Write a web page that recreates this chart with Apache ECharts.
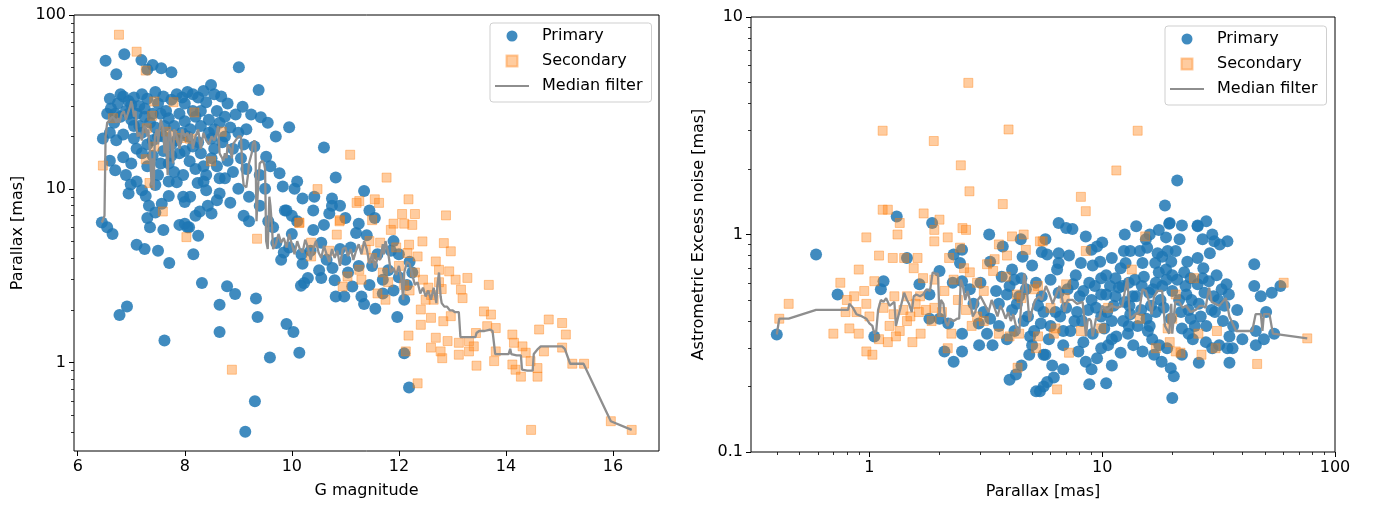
<!DOCTYPE html>
<html><head><meta charset="utf-8">
<script src="https://cdn.jsdelivr.net/npm/echarts@6/dist/echarts.min.js"></script>
<style>html,body{margin:0;padding:0;background:#fff}#c{width:1374px;height:507px}</style>
</head><body><div id="c"></div><script>
// ---------- data: left panel (G magnitude vs parallax) ----------
const leftPrimary = [
[6.52,54.6],[6.87,59.4],[7.19,55],[7.40,51.6],[7.56,49.4],[7.75,46.9],[6.72,45.6],[7.30,48.5],[9.01,50],[9.38,37],[6.85,34],[6.95,32],[7.05,33.5],[7.2,35],[7.3,33],[7.45,36],[7.6,34],[7.75,32.5],[7.85,35],[7.95,33.5],[8.05,36],[8.15,35],[8.25,33.5],[8.35,36.5],[8.49,39.6],[8.55,35],[8.68,34],[8.8,31],[6.75,31],[7.0,30.5],[7.5,31],[8.0,31],[8.4,31.5],
[9.08,29.7],[9.24,26.8],[9.42,25.8],[8.95,26.8],[9.70,20],[6.55,27],[6.62,29],[6.68,24],[6.8,26],[6.9,28],[7.0,25],[7.1,27],[7.15,23],[7.25,26],[7.35,24],[7.45,22.5],[7.55,27],[7.62,23],[7.7,25.5],[7.8,23],[7.9,27],[8.0,24.5],[8.1,22],[8.2,26],[8.3,23],[8.45,25],[8.55,22],[8.65,24],[8.75,20],[8.85,22.5],[9.0,21],[9.15,22],[9.55,24],[9.95,22.6],[6.47,19.5],[6.6,21],[6.72,19],[6.85,20.5],[7.05,19.5],[7.2,21],[7.4,19],[7.6,20],[7.85,19],[8.05,20],[8.25,18.5],[8.5,19.5],[8.7,18.5],
[6.6,33],[6.7,27],[6.8,35],[6.95,27],[7.05,23],[7.15,30],[7.25,29],[7.4,27],[7.5,20],[7.65,28],[7.75,18],[7.95,21],[8.15,28],[8.3,28],[8.45,21],[8.6,28],[8.75,26],[8.9,17],[9.1,18],[7.1,17],[7.3,18],[7.55,14],[7.75,15.5],[8.0,16.5],[8.15,17.5],[8.35,13.5],[8.55,17],[8.75,11.5],[9.0,10],[9.2,9],[9.5,10],[6.9,12],[7.0,14],[7.2,9.8],[7.45,10.5],[7.7,11],[8.1,9],[8.35,11],
[10.6,17.3],[9.3,17.5],[9.52,15.3],[9.77,12.3],[9.83,10.3],[10.1,11],[10.05,10],[6.6,14.5],[6.7,12.8],[6.85,15.2],[6.99,10.6],[7.1,11],[7.2,16],[7.3,13.5],[7.4,15.5],[7.5,12],[7.6,16.5],[7.7,14],[7.8,12.5],[7.9,16],[8.09,14.4],[8.2,13],[8.3,16],[8.4,12],[8.5,15],[8.6,13.5],[8.65,11.5],[8.8,14.5],[8.9,12.5],[9.05,15],[9.15,13],[9.4,12],[9.6,13.5],[7.85,10.9],[7.97,12],[8.24,10.8],[8.4,9.8],[8.65,9.4],[10.82,11.6],[11.35,9.7],
[6.45,6.4],[6.55,6.0],[6.65,5.5],[6.95,9.4],[7.27,9.1],[7.33,8],[7.57,8.2],[7.7,9.1],[7.97,9],[8.0,8.4],[8.28,7.4],[8.43,8],[7.3,6.8],[7.35,6.0],[7.45,7.3],[7.6,5.8],[7.9,6.2],[8.0,6.3],[8.05,6.0],[8.2,7.0],[8.25,5.37],[8.16,4.2],[8.5,7.2],[8.6,8.6],[8.85,8.3],[9.1,7.0],[9.2,6.5],[9.4,8.0],[9.56,6.5],[9.87,7.5],[10.42,9],[10.75,8],[10.75,8.8],[7.10,4.76],[7.25,4.5],[7.50,4.4],[7.71,3.74],[8.08,6.0],
[6.78,1.88],[6.92,2.1],[7.62,1.34],[8.32,2.87],[8.79,2.75],[8.94,2.48],[8.65,2.15],[8.65,1.5],[9.33,2.34],[9.36,1.83],[9.31,0.6],[9.13,0.40],[9.90,1.67],[10.03,1.5],[9.59,1.07],[10.14,1.14],
[9.65,6.0],[9.71,4.87],[9.80,3.9],[9.85,4.3],[10.2,3.7],[10.17,2.77],[10.3,3.07],[10.51,3.4],[10.55,3.07],[10.76,3.5],[10.8,2.98],[10.82,2.4],[10.98,2.4],[11.13,2.74],[11.3,2.4],[11.35,2.17],[11.2,5.56],[11.4,5.4],[10.55,4.9],[10.0,5.5],[10.1,6.5],[10.4,5.8],[10.6,6.2],[10.9,4.5],[11.0,3.9],[11.1,4.6],[11.5,3.6],[11.6,4.2],[11.7,3.0],[11.8,3.4],[11.9,2.6],[12.0,3.1],[12.1,2.3],[12.2,3.8],[11.45,7.5],[11.55,6.8],[11.25,6.3],[11.9,5.0],[12.0,4.2],[12.19,0.72],[12.1,1.13],[11.56,2.04],[11.97,1.83],[10.18,4.2],[10.23,2.87],[10.9,8.0],[11.0,6.8],[10.7,7.2],[10.4,7.5],[10.2,8.8],[10.0,7.0],[9.9,7.5],[9.95,4.6],[10.35,4.4],[10.65,3.9],[11.05,3.3],[11.25,3.6],[11.45,2.8],[11.7,2.5],[11.85,4.4],[12.15,2.8],[12.25,3.3]
];
const leftSecondary = [
[6.77,77],[7.10,61.5],[7.27,47.9],[7.43,31.8],[7.79,31.5],[8.18,27.5],[7.39,26.3],[6.66,25.5],[7.29,22.3],[7.65,21.3],[7.77,20.3],[7.93,19.6],[8.1,19.4],[8.69,21.3],[7.43,17.5],[7.27,14.8],[6.47,13.6],[7.34,10.8],[7.59,7.4],[8.49,14.4],[8.03,5.27],[9.35,5.16],[10.48,9.96],[11.09,15.7],[11.21,8.3],[10.14,6.4],[10.90,6.6],[8.88,0.91],
[10.14,6.35],[10.36,4.9],[10.70,4.4],[10.36,4.08],[10.84,5.45],[10.89,6.5],[11.04,3.13],[11.26,3.42],[10.95,2.74],[11.38,4.46],[11.77,11.6],[11.55,8.7],[11.63,8.3],[12.18,8.7],[12.06,7.16],[12.30,7.16],[12.88,7.03],[11.26,8.5],[11.5,6.6],[11.9,6.3],[12.1,6.3],[11.85,5.8],[12.25,6.2],[12.44,4.98],[12.84,4.87],[12.97,4.37],[12.19,4.77],[12.16,4.27],[12.35,4.08],[12.69,3.82],[12.75,3.42],[12.94,3.35],[13.06,3.0],[13.28,3.07],[13.68,2.8],[13.16,2.63],[13.19,2.35],[12.75,2.9],[12.8,2.65],[12.6,2.45],[12.5,2.3],[12.41,2.02],[12.6,1.81],[12.83,1.73],[12.97,1.85],[12.41,1.65],[13.59,1.97],[13.72,1.89],[13.44,1.48],[13.65,1.62],[13.81,1.58],[13.12,1.30],[13.31,1.33],[13.40,1.24],[13.12,1.11],[13.31,1.16],[12.69,1.39],[12.91,1.33],[12.6,1.22],[12.78,1.16],[12.81,1.06],[12.18,1.43],[12.13,1.16],[12.35,0.76],[13.45,0.96],[13.78,1.02],[13.81,1.16],[14.12,1.45],[14.15,1.30],[14.31,1.24],[14.37,1.14],[14.12,0.975],[14.18,0.91],[14.28,0.83],[14.46,1.02],[14.59,0.93],[14.59,0.83],[14.62,1.55],[14.71,1.16],[14.80,1.77],[15.05,1.69],[15.12,1.45],[15.05,1.22],[15.24,0.985],[15.46,0.985],[14.47,0.41],[15.96,0.46],[16.35,0.41],
[11.5,4.0],[11.7,3.3],[11.8,2.9],[12.0,3.6],[12.1,2.8],[11.6,2.5],[11.3,3.0],[11.95,4.6],[12.3,3.3],[12.45,3.0],[11.75,2.3],[12.2,2.6],[12.55,2.7],[12.65,2.3],[11.45,5.0],[11.65,4.9]
];
const leftMedian = [
[6.45,6.4],[6.5,7],[6.52,20],[6.55,24],[6.6,25],[6.65,26],[6.7,25],[6.72,24],[6.75,25.5],[6.78,24],[6.82,27],[6.86,28],[6.9,25],[6.95,28],[6.98,30],[7.0,32],[7.02,30],[7.05,26],[7.08,28],[7.1,22],[7.12,20],[7.15,21],[7.2,19],[7.22,22],[7.25,23],[7.28,22],[7.3,20],[7.32,22],[7.35,16],[7.38,10.5],[7.4,15],[7.42,9.8],[7.44,20],[7.48,22],[7.5,18],[7.52,21],[7.55,25],[7.6,22],[7.62,16],[7.65,20],[7.68,12],[7.7,20],[7.72,22],[7.75,18],[7.78,14],[7.8,22],[7.85,20],[7.9,17],[7.93,19],[7.95,22],[8.0,20],[8.05,21],[8.1,19],[8.12,21],[8.15,17],[8.2,20],[8.25,22],[8.3,17],[8.35,21],[8.4,19],[8.45,18],[8.5,20],[8.55,19],[8.6,21],[8.62,23],[8.65,16],[8.7,15],[8.72,14.5],[8.75,16],[8.78,15],[8.8,18],[8.85,17],[8.88,15],[8.9,18],[8.95,19],[9.0,20],[9.02,20.5],[9.05,20],[9.08,12],[9.1,10.5],[9.15,10.2],[9.18,12],[9.2,14],[9.25,16],[9.27,18],[9.3,19],[9.32,18],[9.34,6.5],[9.36,9],[9.38,11.8],[9.4,14],[9.45,14.5],[9.48,14],[9.5,13],[9.52,5],[9.55,4.5],[9.58,9],[9.6,8],[9.63,6],[9.65,4.5],[9.7,4.8],[9.75,5.5],[9.8,4.9],[9.85,5.2],[9.9,4.6],[9.95,5.5],[10.0,4.8],[10.05,4.2],[10.1,5.0],[10.15,4.5],[10.2,4.3],[10.25,5.1],[10.3,4.6],[10.35,3.9],[10.4,4.5],[10.45,5.0],[10.5,4.3],[10.55,4.0],[10.6,4.7],[10.65,4.2],[10.7,3.8],[10.75,4.5],[10.8,4.0],[10.85,4.4],[10.9,3.6],[10.95,4.5],[11.0,4.6],[11.05,4.1],[11.1,4.5],[11.15,3.9],[11.2,4.4],[11.25,4.8],[11.3,4.2],[11.35,5.0],[11.4,4.5],[11.45,3.7],[11.5,4.2],[11.55,3.5],[11.6,4.0],[11.65,3.9],[11.7,4.8],[11.72,4.2],[11.75,5.0],[11.8,4.3],[11.85,3.3],[11.9,3.5],[11.95,3.2],[12.0,3.6],[12.05,3.0],[12.08,2.3],[12.1,3.3],[12.15,3.8],[12.2,3.7],[12.25,3.2],[12.3,2.8],[12.35,2.9],[12.4,2.5],[12.45,2.7],[12.5,2.4],[12.55,2.6],[12.6,2.3],[12.65,2.7],[12.7,2.2],[12.72,2.8],[12.75,3.3],[12.78,2.4],[12.8,2.2],[12.85,2.1],[12.9,2.1],[12.95,2.0],[13.0,2.0],[13.05,1.95],[13.12,1.95],[13.15,1.4],[13.25,1.4],[13.35,1.4],[13.43,1.4],[13.45,1.48],[13.5,1.52],[13.6,1.52],[13.7,1.55],[13.75,1.52],[13.8,1.12],[13.9,1.12],[14.0,1.12],[14.05,1.12],[14.08,1.2],[14.1,1.12],[14.2,1.1],[14.28,1.1],[14.3,0.91],[14.4,0.90],[14.5,0.90],[14.52,1.12],[14.6,1.2],[14.65,1.24],[14.8,1.24],[14.9,1.24],[15.05,1.24],[15.1,1.2],[15.2,0.985],[15.3,0.985],[15.45,0.985],[15.96,0.46],[16.35,0.41]
];
// ---------- data: right panel (parallax vs astrometric excess noise) ----------
const rightPrimary = [
[0.40,0.347],[0.59,0.81],[0.73,0.53],[1.05,0.34],[1.15,0.61],[1.12,0.56],[1.31,1.21],[1.45,0.78],[1.64,0.59],[1.81,0.53],[1.86,1.13],[2.0,0.68],[1.81,0.41],[2.0,0.41],[2.18,0.39],[2.1,0.29],[2.3,0.26],[2.5,0.29],[2.3,0.81],[2.5,0.85],[2.45,0.74],[2.28,0.6],[2.5,0.61],[2.7,0.56],[2.5,0.35],[2.96,0.31],[3.38,0.31],[3.27,1.0],[3.74,0.88],[4.47,0.95],[4.55,0.79],[4.1,0.69],[4.5,0.63],[5.0,0.72],[4.7,0.56],[4.0,0.58],[4.3,0.48],[3.9,0.53],[4.0,0.215],[4.26,0.227],[5.2,0.19],[5.0,0.31],[4.86,0.28],[4.5,0.25],[5.6,0.2],[5.6,0.28],[5.45,0.39],[5.6,0.44],[5.5,0.83],[5.7,0.95],[2.95,0.39],[3.3,0.41],[3.1,0.44],
[6.5,1.13],[7.45,1.06],[5.8,0.81],[6.5,0.82],[6.5,0.74],[6.4,0.69],[9.0,0.85],[8.1,0.74],[9.1,0.72],[7.7,0.65],[7.5,0.59],[7.1,0.56],[6.5,0.54],[5.7,0.28],[6.1,0.25],[6.8,0.24],[6.2,0.22],[5.8,0.21],[5.4,0.19],[8.8,0.205],[10.4,0.207],[8.5,0.26],[9.5,0.27],[11.0,0.25],[12.0,0.286],[8.3,0.32],[9.1,0.35],[9.9,0.30],[10.6,0.31],[10.4,0.65],[11.4,0.63],[9.9,0.63],[9.0,0.5],[9.9,0.53],[10.4,0.53],[11.4,0.52],[12.5,0.49],[9.9,0.42],[11.0,0.4],[12.3,0.4],[13.2,0.43],[12.4,0.84],[13.2,0.84],[12.6,0.74],[14.0,1.09],[14.9,0.74],[15.6,0.87],[15.4,0.95],[13.8,0.62],[15.9,0.54],[14.7,0.45],[15.5,0.41],[14.9,0.29],[16.7,0.28],[17.6,0.31],[16.4,0.33],[17.3,0.82],[18.1,0.79],[19.1,0.84],[17.5,0.67],[18.8,0.69],[16.9,0.74],[18.8,0.97],[20.7,0.84],[19.4,1.12],[18.1,0.58],[20.0,0.55],[21.4,0.50],[19.7,0.41],[19.7,0.243],[20.3,0.223],[20.0,0.177],[22,0.37],[23.5,0.35],[25,0.38],[24,0.41],[22.5,0.67],[24,0.63],[25.7,0.59],[27,0.63],[25.7,0.78],[27.0,0.95],[29.7,1.0],[30.3,0.93],[34.5,0.93],[25.7,1.09],[28.7,0.61],[30.1,0.52],[32.6,0.56],[34.2,0.59],[35,0.53],[26,0.257],[27.9,0.32],[29.7,0.30],[31.8,0.31],[34.5,0.30],[36.3,0.30],[35.2,0.34],[38.0,0.45],[35.2,0.257],[45,0.73],[45,0.58],[48,0.52],[53.5,0.54],[58.3,0.58],[50.6,0.44],[45.7,0.36],[45.7,0.31],[54.8,0.35],[49.5,0.33],
[21.0,1.77],[18.6,1.36],[19.5,1.13],[25.7,1.10],[7.0,1.07],
[3.0,0.6],[3.5,0.55],[3.2,0.35],[3.6,0.38],[4.2,0.36],[4.8,0.42],[5.3,0.47],[6.0,0.38],[6.6,0.42],[7.3,0.36],[7.8,0.44],[8.3,0.55],[8.8,0.60],[9.4,0.46],[10.2,0.37],[10.8,0.58],[11.8,0.57],[12.9,0.35],[13.5,0.52],[14.2,0.38],[15.1,0.64],[16.2,0.47],[17.0,0.44],[18.4,0.46],[19.0,0.30],[21.0,0.62],[22.0,0.28],[23.0,0.53],[24.5,0.33],[26.5,0.42],[28.0,0.38],[30.5,0.44],[33.0,0.40],[12.0,0.70],[13.0,0.60],[14.5,0.84],[16.0,1.0],[17.0,0.6],[20.0,0.65],[21.5,0.95],[23.2,0.75],[11.0,0.78],[10.0,0.92],[8.5,0.98],[9.5,0.88],[7.2,0.8],[6.0,0.62],[5.2,0.6],[3.7,0.64],[4.4,0.52],[2.8,0.48],[3.9,0.33],[4.9,0.34],[6.8,0.31],[7.9,0.29],[9.0,0.24],[11.5,0.34],[13.6,0.31],[15.7,0.36],[18.0,0.26],[23.5,0.45],[27.5,0.54],[31.0,0.65],[29.0,0.82],[32,0.9],
[3.3,0.75],[3.6,0.48],[4.1,0.45],[4.6,0.40],[5.1,0.36],[5.9,0.33],[6.3,0.44],[7.0,0.46],[7.6,0.40],[8.0,0.52],[8.7,0.45],[9.3,0.58],[9.8,0.75],[10.5,0.44],[11.2,0.47],[12.2,0.58],[13.1,0.47],[14.0,0.52],[14.8,0.58],[16.5,0.56],[17.8,0.50],[18.9,0.62],[19.8,0.75],[21.8,0.44],[22.8,0.58],[24.2,0.50],[26.0,0.48],[27.2,0.70],[29.5,0.45],[31.5,0.50],[33.5,0.47],[36.5,0.38],[40.0,0.33],[16.0,0.38],[13.0,0.38],[11.0,0.33],[8.2,0.40],[6.8,0.36],[5.5,0.52],[4.2,0.62],[12.5,1.0],[17.5,1.05],[22.0,1.1],[28.0,1.15]
];
const rightSecondary = [
[2.66,4.98],[1.14,3.0],[3.96,3.04],[1.89,2.69],[2.47,2.08],[2.69,1.58],[3.74,1.38],[1.14,1.30],[1.2,1.30],[1.71,1.25],[2.0,1.17],[2.51,1.07],[14.2,3.0],[11.5,1.97],[8.1,1.49],[8.5,1.28],[0.41,0.41],[0.45,0.48],[0.75,0.6],[0.86,0.52],[0.9,0.69],[0.97,0.97],[0.82,0.37],[0.9,0.35],[0.79,0.44],[0.88,0.44],[0.97,0.48],[1.05,0.61],[0.97,0.29],[1.03,0.28],[1.1,0.33],[1.2,0.32],[1.3,0.34],[1.26,0.78],[1.41,0.78],[1.61,0.78],[1.32,1.0],[1.35,1.13],[1.28,0.52],[1.45,0.52],[1.65,0.52],[1.27,0.43],[1.4,0.45],[1.5,0.42],[1.63,0.44],[1.53,0.32],[1.66,0.35],[1.7,0.63],[1.9,0.62],[1.9,0.46],[2.05,0.44],[1.85,0.40],[2.17,0.30],[1.9,1.05],[1.9,0.93],[2.17,0.97],[2.6,1.05],[2.2,0.78],[2.45,0.87],[2.7,0.67],[2.9,0.6],[3.1,0.55],[2.4,0.5],[2.6,0.45],[2.9,0.42],[3.1,0.4],[3.6,0.9],[4.1,0.98],[4.6,1.0],[4.7,0.85],[5.4,0.93],[3.2,0.73],[3.45,0.77],[3.4,0.68],[3.9,0.8],[3.85,0.64],[4.3,0.53],[4.5,0.51],[5.1,0.56],[5.3,0.58],[3.6,0.35],[4.0,0.34],[4.4,0.35],[5.3,0.34],[5.2,0.30],[4.33,0.244],[5.55,0.93],[8.5,0.84],[7.0,0.59],[6.9,0.51],[6.0,0.46],[6.3,0.37],[6.2,0.35],[8.1,0.36],[9.9,0.37],[7.2,0.286],[6.4,0.194],[10.6,0.46],[13.4,0.69],[15.3,0.98],[14.5,0.41],[17,0.30],[19.1,0.37],[20.0,0.41],[19.5,0.32],[20.7,0.29],[21.7,0.286],[20.7,0.53],[24.8,0.63],[26.7,0.28],[25.9,0.35],[31.1,0.36],[30.7,0.30],[46.3,0.254],[60.2,0.6],[76,0.333],
[0.8,0.5],[0.95,0.55],[1.0,0.42],[1.15,0.46],[1.22,0.38],[1.35,0.36],[1.45,0.40],[1.58,0.48],[1.75,0.45],[2.1,0.55],[2.3,0.62],[2.55,0.7],[2.25,0.35],[2.75,0.38],[1.1,0.8],[1.55,0.7],[0.7,0.35]
];
const rightMedian = [
[0.40,0.347],[0.41,0.41],[0.45,0.41],[0.59,0.45],[0.81,0.45],[0.82,0.48],[0.85,0.46],[0.88,0.43],[0.93,0.42],[0.97,0.41],[1.0,0.39],[1.03,0.38],[1.05,0.35],[1.07,0.36],[1.09,0.45],[1.12,0.50],[1.15,0.49],[1.18,0.51],[1.22,0.47],[1.25,0.48],[1.28,0.49],[1.30,0.38],[1.33,0.42],[1.36,0.46],[1.41,0.54],[1.45,0.50],[1.48,0.48],[1.52,0.44],[1.55,0.52],[1.59,0.53],[1.65,0.52],[1.70,0.53],[1.76,0.56],[1.82,0.55],[1.87,0.67],[1.92,0.66],[1.97,0.66],[2.0,0.42],[2.03,0.50],[2.08,0.48],[2.12,0.40],[2.17,0.38],[2.22,0.41],[2.3,0.40],[2.38,0.41],[2.43,0.41],[2.47,0.62],[2.52,0.58],[2.58,0.50],[2.64,0.55],[2.7,0.50],[2.78,0.42],[2.85,0.44],[2.92,0.50],[3.0,0.52],[3.06,0.50],[3.15,0.47],[3.25,0.44],[3.35,0.50],[3.45,0.46],[3.55,0.42],[3.65,0.47],[3.73,0.45],[3.85,0.41],[3.95,0.44],[4.05,0.40],[4.15,0.43],[4.26,0.38],[4.4,0.35],[4.5,0.50],[4.63,0.66],[4.75,0.55],[4.87,0.40],[5.0,0.45],[5.15,0.50],[5.36,0.52],[5.5,0.50],[5.73,0.58],[5.9,0.54],[6.13,0.48],[6.3,0.52],[6.55,0.58],[6.7,0.52],[6.88,0.44],[7.1,0.50],[7.46,0.50],[7.8,0.48],[8.24,0.49],[8.52,0.34],[8.65,0.40],[8.8,0.41],[8.95,0.40],[9.1,0.34],[9.4,0.41],[9.7,0.41],[10.0,0.47],[10.5,0.45],[11.0,0.47],[11.6,0.46],[12.2,0.47],[12.8,0.63],[13.2,0.41],[13.9,0.43],[14.4,0.44],[14.9,0.56],[15.4,0.55],[15.9,0.49],[16.3,0.43],[16.7,0.52],[17.3,0.55],[18.1,0.55],[18.6,0.38],[19.4,0.35],[19.8,0.48],[20.0,0.35],[20.6,0.49],[21.4,0.49],[22.2,0.46],[22.9,0.47],[24.0,0.44],[25.2,0.45],[26.2,0.47],[27.0,0.47],[27.8,0.46],[28.8,0.57],[29.5,0.49],[31.8,0.47],[34.0,0.51],[35.2,0.42],[37.6,0.36],[44.1,0.36],[45.6,0.43],[48.0,0.43],[48.8,0.36],[49.5,0.43],[52.3,0.43],[54.1,0.35],[76,0.333]
];
// ---------- ticks ----------
const leftXTicks = [6, 8, 10, 12, 14, 16];
const leftYTicks = [1, 10, 100];
const leftYMinor = [0.4,0.5,0.6,0.7,0.8,0.9,2,3,4,5,6,7,8,9,20,30,40,50,60,70,80,90];
const rightXTicks = [1, 10, 100];
const rightXMinor = [0.4,0.5,0.6,0.7,0.8,0.9,2,3,4,5,6,7,8,9,20,30,40,50,60,70,80,90];
const rightYTicks = [0.1, 1, 10];
const rightYMinor = [0.2,0.3,0.4,0.5,0.6,0.7,0.8,0.9,2,3,4,5,6,7,8,9];
const seriesNames = ['Primary', 'Secondary', 'Median filter'];

const FONT = 'DejaVu Sans';
const BLUE = 'rgba(31,119,180,0.85)';
const ORANGE = 'rgba(255,127,14,0.4)';
const GRAY = '#8e8e8e';
const txt = {fontFamily: FONT, fontSize: 16, color: '#000'};

function majorAxis(extra, ticks, name, gap) {
  return Object.assign({
    axisLine: {show: false},
    splitLine: {show: false},
    axisTick: {show: true, customValues: ticks, length: 5, lineStyle: {color: '#000', width: 1}},
    axisLabel: Object.assign({customValues: ticks, margin: 8}, txt),
    name: name, nameLocation: 'middle', nameGap: gap,
    nameTextStyle: Object.assign({}, txt)
  }, extra);
}
function minorAxis(extra, ticks) {
  return Object.assign({
    axisLine: {show: false},
    splitLine: {show: false},
    axisLabel: {show: false},
    axisTick: {show: true, customValues: ticks, length: 3, lineStyle: {color: '#000', width: 0.8}}
  }, extra);
}
function legendAt(left, top) {
  return {
    left: left, top: top, orient: 'vertical', selectedMode: false,
    itemWidth: 34, itemHeight: 11, itemGap: 5, symbolKeepAspect: true,
    padding: [3, 9, 6, 5],
    borderColor: '#cfcfcf', borderWidth: 1, borderRadius: 3,
    backgroundColor: 'rgba(255,255,255,0.8)',
    textStyle: Object.assign({lineHeight: 20, padding: [0, 0, 0, 8]}, txt),
    data: [
      {name: seriesNames[0], icon: 'circle'},
      {name: seriesNames[1], icon: 'path://M0,0 L10,0 L10,10 L0,10 Z'},
      {name: seriesNames[2], icon: 'path://M0,0 L34,0 L34,2 L0,2 Z', itemStyle: {color: GRAY}}
    ]
  };
}
function trio(xi, yi, prim, sec, med) {
  return [
    {name: seriesNames[0], type: 'scatter', xAxisIndex: xi, yAxisIndex: yi, data: prim,
     symbol: 'circle', symbolSize: 12, itemStyle: {color: BLUE, opacity: 1}},
    {name: seriesNames[1], type: 'scatter', xAxisIndex: xi, yAxisIndex: yi, data: sec,
     symbol: 'rect', symbolSize: 9, itemStyle: {color: ORANGE, borderColor: ORANGE, borderWidth: 1, opacity: 1}},
    {name: seriesNames[2], type: 'line', xAxisIndex: xi, yAxisIndex: yi, data: med,
     symbol: 'none', showSymbol: false, lineStyle: {color: GRAY, width: 2.3}, itemStyle: {color: GRAY}}
  ];
}

const chart = echarts.init(document.getElementById('c'), null, {renderer: 'canvas'});
chart.setOption({
  animation: false,
  backgroundColor: '#fff',
  grid: [
    {left: 74, top: 15, width: 585, height: 436, show: true, borderColor: '#000', borderWidth: 1, backgroundColor: 'transparent', containLabel: false, outerBoundsMode: 'none'},
    {left: 751, top: 17, width: 584, height: 435, show: true, borderColor: '#000', borderWidth: 1, backgroundColor: 'transparent', containLabel: false, outerBoundsMode: 'none'}
  ],
  xAxis: [
    majorAxis({gridIndex: 0, type: 'value', min: 5.93, max: 16.86, position: 'bottom'}, leftXTicks, 'G magnitude', 32),
    majorAxis({gridIndex: 1, type: 'log', logBase: 10, min: 0.31, max: 100, position: 'bottom'}, rightXTicks, 'Parallax [mas]', 32),
    minorAxis({gridIndex: 1, type: 'log', logBase: 10, min: 0.31, max: 100, position: 'bottom'}, rightXMinor)
  ],
  yAxis: [
    majorAxis({gridIndex: 0, type: 'log', logBase: 10, min: 0.31, max: 100, position: 'left'}, leftYTicks, 'Parallax [mas]', 48),
    minorAxis({gridIndex: 0, type: 'log', logBase: 10, min: 0.31, max: 100, position: 'left'}, leftYMinor),
    majorAxis({gridIndex: 1, type: 'log', logBase: 10, min: 0.1, max: 10, position: 'left'}, rightYTicks, 'Astrometric Excess noise [mas]', 44),
    minorAxis({gridIndex: 1, type: 'log', logBase: 10, min: 0.1, max: 10, position: 'left'}, rightYMinor)
  ],
  legend: [legendAt(490, 23), legendAt(1165, 26)],
  series: [].concat(
    trio(0, 0, leftPrimary, leftSecondary, leftMedian),
    trio(1, 2, rightPrimary, rightSecondary, rightMedian)
  )
});
</script></body></html>
